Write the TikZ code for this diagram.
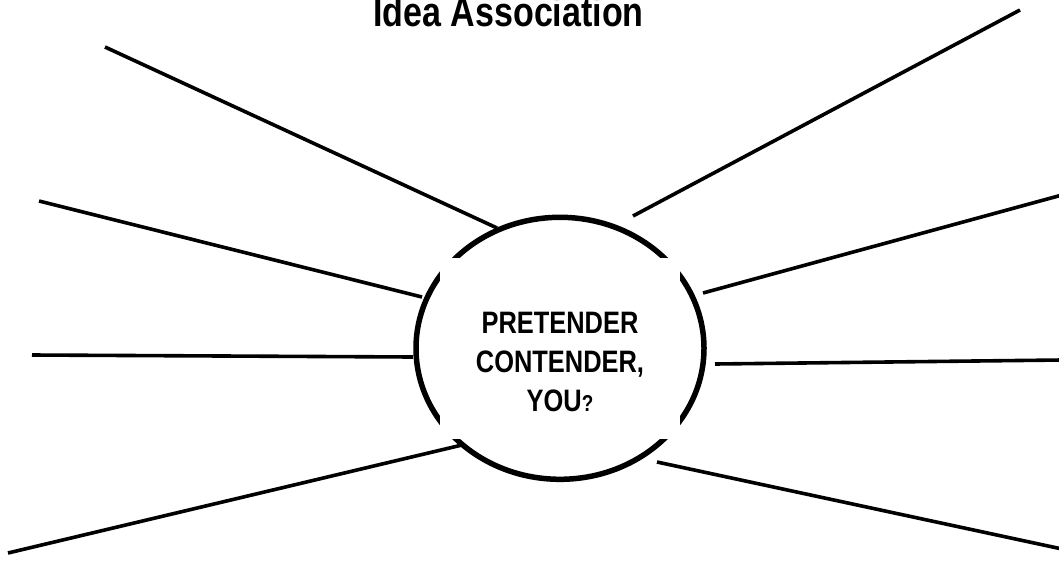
\documentclass[tikz,border=0pt]{standalone}
\usepackage{fontspec}
\setmainfont{Liberation Sans}[FakeStretch=0.82]
\usetikzlibrary{shapes.geometric}

\begin{document}
\begin{tikzpicture}[x=1pt,y=-1pt,
		spoke/.style={line width=3.6pt},
		hub/.style={draw,ellipse,line width=5.5pt,minimum width=288pt,minimum height=262pt},
		cover/.style={fill=white,minimum width=240pt,minimum height=181pt,inner sep=0pt}]
		\clip (0,0) rectangle (1059,562);
		\node[anchor=base,font=\bfseries\fontsize{41.5}{44}\selectfont] (title) at (508.5,27) {Idea Association};
		% hub with its corners blanked out
		\node[hub] (hub) at (560,348.3) {};
		\node[cover] (box) at (560,348.5) {};
		\node[align=center,font=\bfseries\fontsize{31}{39}\selectfont] (word) at (560,362)
			{PRETENDER\\CONTENDER,\\YOU{\fontsize{23}{39}\selectfont?}};
		% spokes
		\coordinate (out1) at (105,47);   \coordinate (in1) at (497,228);
		\coordinate (out2) at (39,201);   \coordinate (in2) at (422,297);
		\coordinate (out3) at (32,355);   \coordinate (in3) at (413,357);
		\coordinate (out4) at (8,553);    \coordinate (in4) at (462,445);
		\coordinate (out5) at (1020,10);  \coordinate (in5) at (633,216);
		\coordinate (out6) at (1062,195); \coordinate (in6) at (703,293);
		\coordinate (out7) at (1062,360); \coordinate (in7) at (715,364);
		\coordinate (out8) at (1062,549); \coordinate (in8) at (657,462);
		\foreach \i in {1,...,8} {
			\draw[spoke] (out\i) -- (in\i);
		}
	\end{tikzpicture}
\end{document}
